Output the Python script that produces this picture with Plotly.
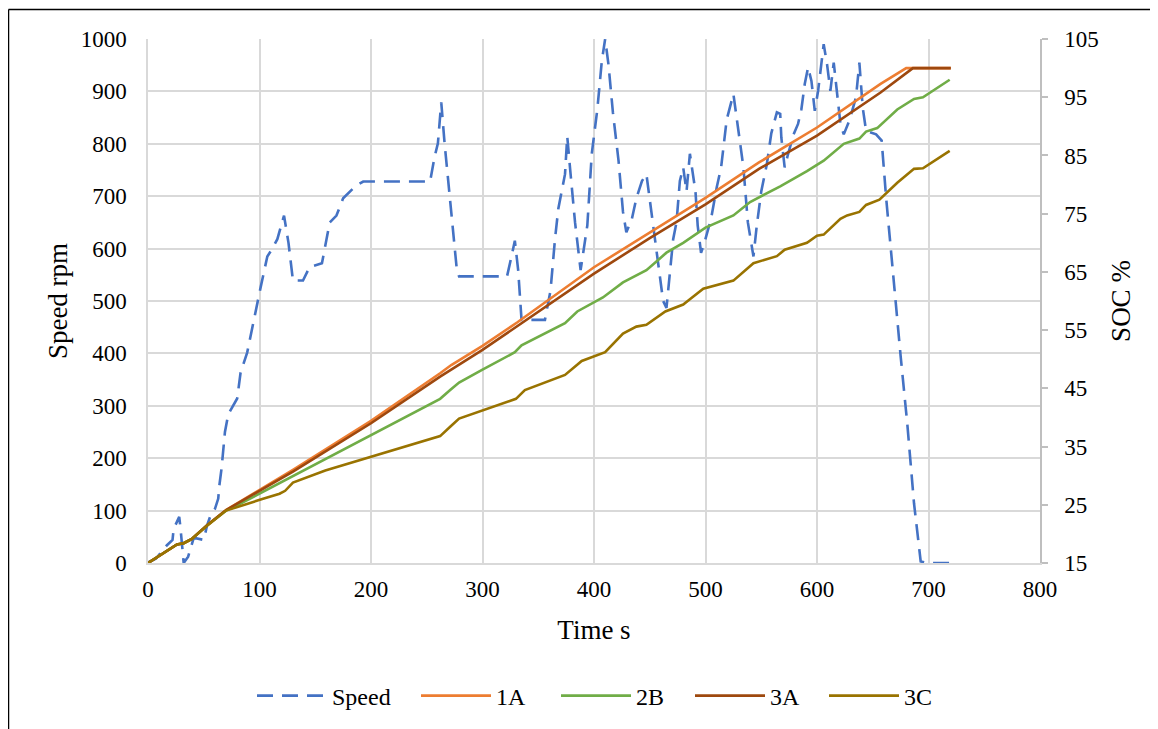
import plotly.graph_objects as go

# ---------------- data ----------------
speed_t = [0, 1, 7, 17, 22, 23, 28, 29, 32, 36, 41, 50, 53, 56, 60, 63, 64, 66, 69, 72,
           80, 83, 89, 95, 101, 107, 111, 116, 122, 126, 130, 139, 145, 156, 163, 169, 175, 186, 193, 253,
           257, 260, 263, 266, 272, 277, 279, 322, 326, 329, 332, 335, 356, 361, 365, 368, 374, 376, 379, 383,
           388, 391, 394, 398, 403, 407, 410, 413, 417, 422, 426, 429, 434, 438, 443, 447, 451, 456, 462, 465,
           468, 471, 474, 477, 480, 483, 486, 491, 493, 496, 499, 505, 510, 514, 519, 525, 529, 534, 538, 543,
           546, 550, 555, 559, 564, 567, 568, 571, 574, 579, 583, 586, 589, 592, 595, 598, 601, 605, 606, 609,
           612, 615, 618, 621, 624, 629, 635, 638, 641, 644, 653, 658, 662, 669, 675, 681, 687, 693, 699, 720]
speed_rpm = [0, 2, 8, 34, 44, 65, 88, 70, 0, 12, 48, 44, 72, 90, 103, 123, 148, 181, 250, 284,
             314, 363, 402, 467, 526, 585, 598, 618, 663, 611, 539, 539, 565, 572, 650, 663, 696, 719, 728, 728,
             775, 801, 879, 801, 676, 559, 547, 547, 585, 615, 559, 464, 464, 520, 618, 676, 742, 814, 742, 650,
             559, 598, 644, 781, 866, 958, 1000, 951, 859, 768, 670, 631, 657, 696, 729, 742, 676, 598, 500, 487,
             546, 618, 650, 729, 755, 709, 781, 709, 644, 592, 611, 657, 716, 755, 846, 895, 833, 755, 650, 585,
             644, 709, 761, 820, 860, 857, 812, 755, 780, 818, 838, 866, 914, 946, 920, 863, 901, 965, 990, 952,
             901, 955, 901, 838, 818, 844, 889, 955, 869, 825, 818, 806, 697, 526, 395, 265, 114, 3, 0, 0]

soc_1a_t = [0, 11, 26, 32, 39, 53, 70, 130, 200, 262, 272, 300, 331, 400, 450, 500, 548, 600, 657, 680, 720]
soc_1a = [15, 16.4, 18.2, 18.4, 19.1, 21.5, 24.1, 31.0, 39.4, 47.6, 49.0, 52.3, 56.3, 65.8, 71.8, 77.7, 83.8, 89.8, 97.3, 100, 100]

soc_2b_t = [0, 11, 26, 32, 39, 53, 70, 83, 130, 199, 262, 271, 279, 300, 329, 335, 374, 385, 408, 426,
            447, 456, 465, 480, 500, 525, 540, 567, 591, 606, 624, 638, 644, 654, 672, 687, 695, 719]
soc_2b = [15, 16.4, 18.2, 18.4, 19.1, 21.5, 24.0, 25.2, 29.9, 36.9, 43.2, 44.7, 46.0, 48.2, 51.2, 52.4, 56.2, 58.2, 60.6, 63.2,
          65.3, 66.8, 68.3, 70.0, 72.6, 74.7, 77.0, 79.7, 82.3, 84.1, 87.0, 87.9, 89.1, 89.7, 92.9, 94.7, 95.0, 98.0]

soc_3a_t = [0, 11, 26, 32, 39, 53, 70, 130, 200, 262, 279, 300, 400, 450, 500, 548, 600, 657, 686, 720]
soc_3a = [15, 16.4, 18.2, 18.4, 19.1, 21.5, 24.1, 30.7, 39.0, 47.0, 49.1, 51.6, 64.7, 70.8, 76.6, 82.7, 88.4, 95.8, 100, 100]

soc_3c_t = [0, 11, 26, 32, 39, 53, 70, 101, 118, 123, 130, 159, 200, 262, 271, 279, 330, 338, 374, 389,
            410, 426, 438, 447, 464, 480, 486, 498, 525, 543, 564, 571, 591, 600, 606, 621, 627, 638, 644, 656,
            672, 687, 695, 719]
soc_3c = [15, 16.4, 18.2, 18.4, 19.1, 21.4, 24.0, 25.9, 26.9, 27.4, 28.8, 30.9, 33.2, 36.8, 38.4, 39.8, 43.2, 44.7, 47.3, 49.7,
          51.2, 54.4, 55.6, 55.9, 58.2, 59.4, 60.3, 62.1, 63.5, 66.5, 67.7, 68.8, 70.0, 71.2, 71.4, 74.1, 74.7, 75.3, 76.5, 77.4,
          80.3, 82.7, 82.8, 85.8]

series_names = ["Speed", "1A", "2B", "3A", "3C"]

# ---------------- figure ----------------
FONT = "Liberation Serif, Times New Roman, serif"
GRID = "#D9D9D9"
PLOT_W, PLOT_H = 892.0, 525.0
L, T = 140, 31  # page has an 8px body margin


def px_x(p):
    return (p - 148) / PLOT_W


def px_y(p):
    return (564 - p) / PLOT_H


fig = go.Figure()
fig.add_trace(go.Scatter(x=speed_t, y=speed_rpm, name=series_names[0], mode="lines", legend="legend",
                         line=dict(color="#4472C4", width=2.6, dash="16px,9px")))
fig.add_trace(go.Scatter(x=soc_1a_t, y=soc_1a, name=series_names[1], mode="lines", yaxis="y2", legend="legend2",
                         line=dict(color="#ED7D31", width=2.6)))
fig.add_trace(go.Scatter(x=soc_2b_t, y=soc_2b, name=series_names[2], mode="lines", yaxis="y2", legend="legend3",
                         line=dict(color="#70AD47", width=2.6)))
fig.add_trace(go.Scatter(x=soc_3a_t, y=soc_3a, name=series_names[3], mode="lines", yaxis="y2", legend="legend4",
                         line=dict(color="#9E480E", width=2.6)))
fig.add_trace(go.Scatter(x=soc_3c_t, y=soc_3c, name=series_names[4], mode="lines", yaxis="y2", legend="legend5",
                         line=dict(color="#997300", width=2.6)))

legend_starts = [257, 421, 561, 695, 829]
legend_common = dict(orientation="h", yanchor="middle", y=px_y(696), xanchor="left",
                     font=dict(size=24), itemwidth=70, bgcolor="rgba(0,0,0,0)", borderwidth=0)
legends = {}
for i, sx in enumerate(legend_starts):
    key = "legend" if i == 0 else f"legend{i + 1}"
    legends[key] = dict(legend_common, x=px_x(sx - 5))

fig.update_layout(
    width=1150, height=721,
    margin=dict(l=L, r=118, t=T, b=165),
    paper_bgcolor="white", plot_bgcolor="white",
    font=dict(family=FONT, size=23, color="black"),
    showlegend=True,
    xaxis=dict(range=[0, 800], dtick=100, tick0=0, showgrid=True, gridcolor=GRID, gridwidth=1.5,
               showline=True, linecolor=GRID, linewidth=1.5, zeroline=False, ticks="",
               ticklabelstandoff=5,
               title=dict(text="Time s", font=dict(size=27), standoff=19)),
    yaxis=dict(range=[0, 1000], dtick=100, tick0=0, showgrid=True, gridcolor=GRID, gridwidth=1.5,
               showline=True, linecolor=GRID, linewidth=1.5, zeroline=False, ticks="",
               ticklabelstandoff=15,
               title=dict(text="Speed rpm", font=dict(size=27), standoff=5)),
    yaxis2=dict(range=[15, 105], dtick=10, tick0=15, overlaying="y", side="right", showgrid=False,
                showline=True, linecolor="#BFBFBF", linewidth=1.5, zeroline=False,
                ticks="outside", ticklen=6, tickcolor="#BFBFBF", tickwidth=1.5,
                ticklabelstandoff=12,
                title=dict(text="SOC %", font=dict(size=27), standoff=13)),
    shapes=[
        dict(type="line", xref="paper", yref="paper", x0=px_x(8.5), x1=px_x(1170), y0=px_y(9.5), y1=px_y(9.5),
             line=dict(color="black", width=1.5)),
        dict(type="line", xref="paper", yref="paper", x0=px_x(8.5), x1=px_x(8.5), y0=px_y(9.5), y1=px_y(740),
             line=dict(color="black", width=1.5)),
    ],
    **legends,
)

fig.write_html("out.html")
